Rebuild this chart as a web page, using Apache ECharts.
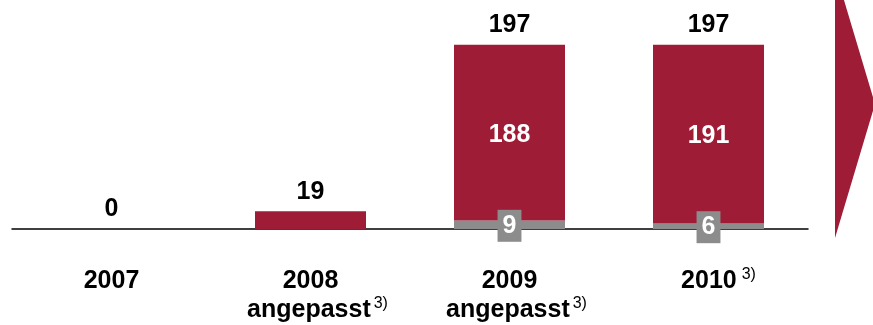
<!DOCTYPE html>
<html>
<head>
<meta charset="utf-8">
<script src="https://cdn.jsdelivr.net/npm/echarts@6/dist/echarts.min.js"></script>
<style>
  html, body { margin: 0; padding: 0; background: #fff; }
  #chart { width: 873px; height: 325px; }
</style>
</head>
<body>
<div id="chart"></div>
<script>
// Years and their sub-captions / footnote marks
const years = ['2007', '2008', '2009', '2010'];
const captions = ['', 'angepasst', 'angepasst', ''];
const footnotes = ['', '3)', '3)', '3)'];

// Stack segments per year
const greyPart = [0, 0, 9, 6];
const redPart = [0, 19, 188, 191];
// Totals printed above each column
const totals = [0, 19, 197, 197];

const RED = '#9e1c36';
const GREY = '#8c8c8c';
const FONT = '"Liberation Sans", Arial, sans-serif';

const chart = echarts.init(document.getElementById('chart'), null, { renderer: 'canvas' });

// Footnote marks hang to the right of the centred caption: a blank spacer
// on the left keeps the main word centred under its column.
function yearLabel(value, idx) {
  const fn = footnotes[idx];
  if (captions[idx]) {
    return value + '\n' + (fn ? '{padS| }' : '') + captions[idx] + (fn ? '{supS|' + fn + '}' : '');
  }
  if (fn) {
    return '{padL| }' + value + '{supL|' + fn + '}';
  }
  return value;
}

const supBase = {
  fontFamily: FONT,
  fontSize: 16,
  fontWeight: 'normal',
  color: '#000',
  lineHeight: 16,
  verticalAlign: 'top'
};

chart.setOption({
  animation: false,
  backgroundColor: '#fff',
  grid: { left: 12, right: 65, top: 14, bottom: 95, containLabel: false },
  xAxis: {
    type: 'category',
    data: years,
    axisLine: { show: true, lineStyle: { color: '#000', width: 1.5 } },
    axisTick: { show: false },
    axisLabel: {
      interval: 0,
      hideOverlap: false,
      margin: 38,
      fontFamily: FONT,
      fontSize: 25,
      fontWeight: 'bold',
      color: '#000',
      lineHeight: 29,
      formatter: yearLabel,
      rich: {
        supS: Object.assign({ padding: [0, 0, 0, 3] }, supBase),
        supL: Object.assign({ padding: [0, 0, 0, 5] }, supBase),
        padS: { width: 14, fontSize: 16, lineHeight: 16 },
        padL: { width: 20, fontSize: 16, lineHeight: 16 }
      }
    }
  },
  yAxis: {
    type: 'value',
    min: 0,
    max: 230,
    show: false,
    splitLine: { show: false }
  },
  series: [
    {
      name: 'grau',
      type: 'bar',
      stack: 'total',
      barWidth: 111,
      itemStyle: { color: GREY },
      data: greyPart.map(function (v) {
        return {
          value: v,
          label: {
            show: v > 0,
            position: 'inside',
            offset: [0, 1],
            formatter: String(v),
            backgroundColor: GREY,
            padding: [4, 5, 3, 5],
            color: '#fff',
            fontFamily: FONT,
            fontSize: 25,
            fontWeight: 'bold'
          }
        };
      })
    },
    {
      name: 'rot',
      type: 'bar',
      stack: 'total',
      barWidth: 111,
      itemStyle: { color: RED },
      data: redPart.map(function (v, i) {
        return {
          value: v,
          label: {
            show: greyPart[i] > 0,
            position: 'inside',
            offset: [0, 2],
            color: '#fff',
            fontFamily: FONT,
            fontSize: 25,
            fontWeight: 'bold'
          }
        };
      })
    },
    {
      name: 'summe',
      type: 'bar',
      stack: 'total',
      barWidth: 111,
      itemStyle: { color: 'rgba(0,0,0,0)' },
      data: totals.map(function () { return 0; }),
      label: {
        show: true,
        position: 'top',
        distance: 7,
        formatter: function (p) { return String(totals[p.dataIndex]); },
        color: '#000',
        fontFamily: FONT,
        fontSize: 25,
        fontWeight: 'bold'
      }
    }
  ],
  graphic: [
    {
      type: 'polygon',
      shape: { points: [[835, -30], [835, 238], [875, 104]] },
      style: { fill: RED }
    }
  ]
});
</script>
</body>
</html>
